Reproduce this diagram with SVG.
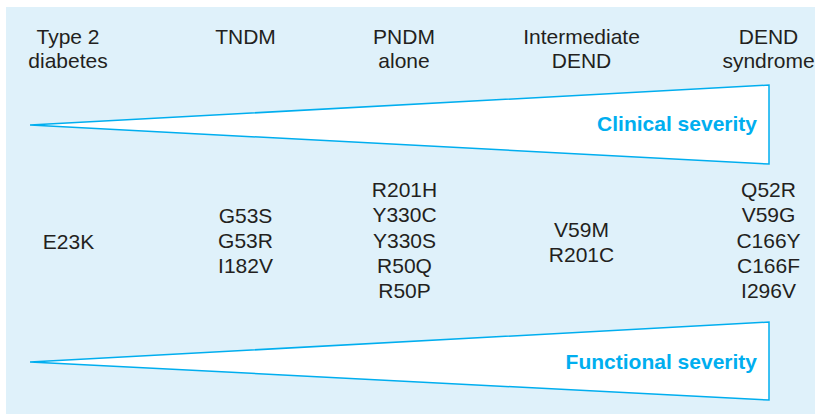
<svg xmlns="http://www.w3.org/2000/svg" width="815" height="414" viewBox="0 0 815 414">
<style>
.t{font-family:"Liberation Sans",Arial,sans-serif;font-size:21px;fill:#231f20;text-anchor:middle}
.lab{font-family:"Liberation Sans",Arial,sans-serif;font-size:21px;font-weight:bold;fill:#00aeef;text-anchor:end}
.wedge{fill:#ffffff;stroke:#00aeef;stroke-width:1.5;stroke-linejoin:miter}
</style>
<rect x="6" y="7" width="809" height="407" fill="#dff1fa"/>
<g id="headers">
<text class="t" x="68" y="44">Type 2</text><text class="t" x="68" y="68">diabetes</text>
<text class="t" x="245.5" y="44">TNDM</text>
<text class="t" x="404" y="44">PNDM</text><text class="t" x="404" y="68">alone</text>
<text class="t" x="581.5" y="44">Intermediate</text><text class="t" x="581.5" y="68">DEND</text>
<text class="t" x="768.5" y="44">DEND</text><text class="t" x="768.5" y="68">syndrome</text>
</g>
<g id="clinical">
<polygon class="wedge" points="30,125 769,85 769,164"/>
<text class="lab" x="757" y="131">Clinical severity</text>
</g>
<g id="mutations">
<text class="t" x="68.5" y="249">E23K</text>
<text class="t" x="245.5" y="223">G53S</text><text class="t" x="245.5" y="248">G53R</text><text class="t" x="245.5" y="273">I182V</text>
<text class="t" x="404.5" y="197">R201H</text><text class="t" x="404.5" y="222">Y330C</text><text class="t" x="404.5" y="248">Y330S</text><text class="t" x="404.5" y="273">R50Q</text><text class="t" x="404.5" y="298">R50P</text>
<text class="t" x="581.5" y="237">V59M</text><text class="t" x="581.5" y="262">R201C</text>
<text class="t" x="768.5" y="197">Q52R</text><text class="t" x="768.5" y="222">V59G</text><text class="t" x="768.5" y="248">C166Y</text><text class="t" x="768.5" y="273">C166F</text><text class="t" x="768.5" y="298">I296V</text>
</g>
<g id="functional">
<polygon class="wedge" points="30,362 769,322 769,400"/>
<text class="lab" x="757" y="369">Functional severity</text>
</g>
</svg>
